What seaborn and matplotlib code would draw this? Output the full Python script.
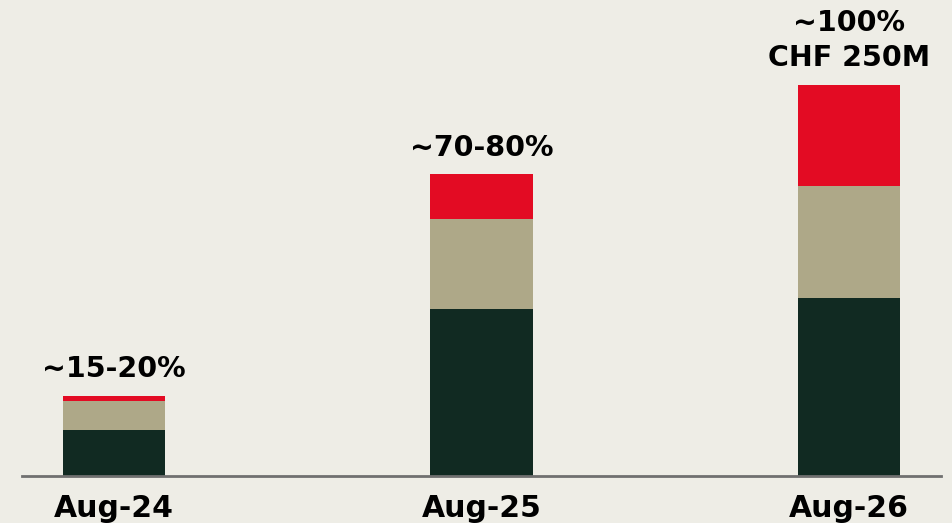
import pandas as pd
import seaborn as sns
from matplotlib import pyplot as plt

# values in CHF M
periods = ['Aug-24', 'Aug-25', 'Aug-26']
base = [29.1, 106.4, 113.4]
middle = [18.6, 57.8, 71.9]
top = [3.2, 28.6, 64.7]
labels = ['~15-20%', '~70-80%', '~100%\nCHF 250M']

bg = '#eeede6'
sns.set_style('white', {'axes.facecolor': bg, 'figure.facecolor': bg})
plt.rcParams['font.family'] = ['DejaVu Sans']

df = pd.DataFrame({'period': periods, 'base': base, 'middle': middle, 'top': top})
df['lvl1'] = df['base']
df['lvl2'] = df['base'] + df['middle']
df['lvl3'] = df['lvl2'] + df['top']

fig = plt.figure(figsize=(9.53, 5.23), dpi=100)
ax = fig.add_axes([22 / 953, 1 - 475.5 / 523, 919 / 953, 475.5 / 523])

for col, color in [('lvl3', '#e30b23'), ('lvl2', '#aea888'), ('lvl1', '#112a22')]:
    sns.barplot(data=df, x='period', y=col, color=color, width=0.278,
                saturation=1, edgecolor='none', ax=ax)

for i, row in df.iterrows():
    ax.annotate(labels[i], (i, row['lvl3']), xytext=(0, 9), textcoords='offset points',
                ha='center', va='bottom', fontsize=20.5, fontweight='bold',
                linespacing=1.35, color='black')

ax.set_xlim(-0.25, 2.25)
ax.set_ylim(0, 304.4)
ax.set_xlabel('')
ax.set_ylabel('')
ax.set_yticks([])
for s in ['top', 'right', 'left']:
    ax.spines[s].set_visible(False)
ax.spines['bottom'].set_color('#707070')
ax.spines['bottom'].set_linewidth(2)
ax.tick_params(axis='x', length=0, pad=13, labelsize=21.5)
for t in ax.get_xticklabels():
    t.set_fontweight('bold')
    t.set_color('black')

fig.savefig('out.png', dpi=100, facecolor=bg)
